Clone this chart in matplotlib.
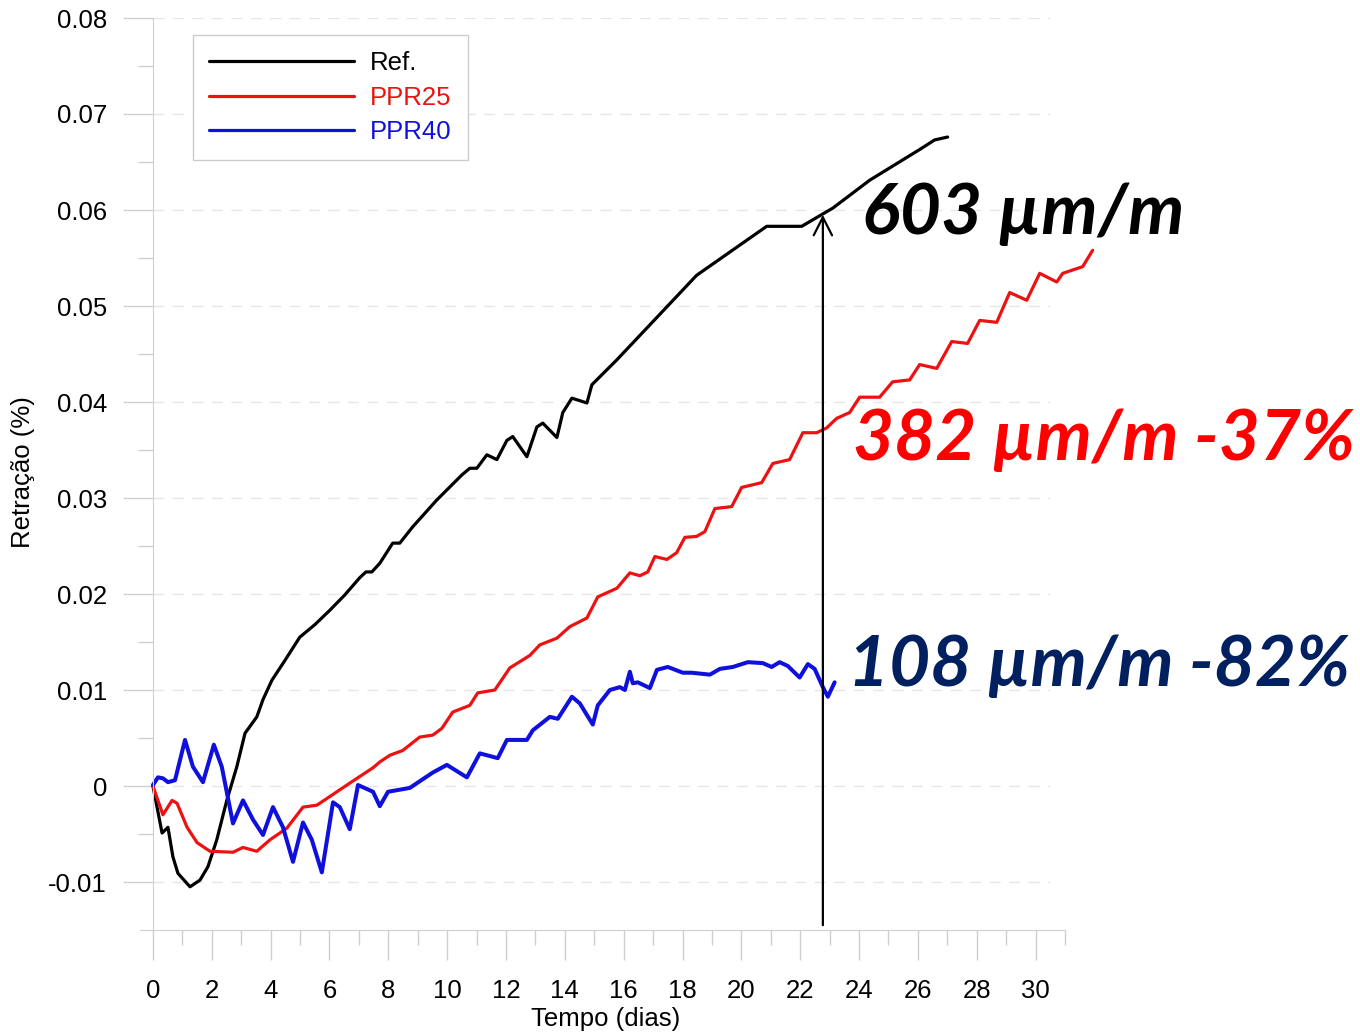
import matplotlib
matplotlib.use("Agg")
import matplotlib.pyplot as plt
import numpy as np

plt.rcParams['font.family'] = ['Liberation Sans', 'DejaVu Sans']

# Ref. (tempo em dias, retração em %)
ref_t = [0.00, 0.31, 0.51, 0.68, 0.85, 1.26, 1.60, 1.87, 2.17, 2.51, 2.85, 3.13, 3.53, 3.74,
         4.04, 4.49, 4.99, 5.50, 6.01, 6.52, 7.03, 7.24, 7.44, 7.71, 8.15, 8.39, 8.83, 9.65,
         10.50, 10.77, 11.01, 11.35, 11.69, 12.03, 12.23, 12.71, 13.05, 13.25, 13.73, 13.93,
         14.24, 14.75, 14.92, 15.77, 18.48, 20.86, 22.05, 23.11, 24.36, 26.06, 26.57, 27.01]
ref_v = [0.0000, -0.0049, -0.0043, -0.0074, -0.0091, -0.0105, -0.0098, -0.0084, -0.0056,
         -0.0015, 0.0020, 0.0055, 0.0072, 0.0090, 0.0110, 0.0131, 0.0155, 0.0168, 0.0183,
         0.0199, 0.0217, 0.0223, 0.0223, 0.0232, 0.0253, 0.0253, 0.0270, 0.0298, 0.0324,
         0.0331, 0.0331, 0.0345, 0.0340, 0.0360, 0.0364, 0.0343, 0.0374, 0.0378, 0.0363,
         0.0389, 0.0404, 0.0399, 0.0418, 0.0444, 0.0532, 0.0583, 0.0583, 0.0602, 0.0631,
         0.0663, 0.0673, 0.0676]

# PPR25
ppr25_t = [0.00, 0.34, 0.65, 0.82, 1.16, 1.50, 1.94, 2.72, 3.06, 3.53, 3.98, 4.55, 5.10,
           5.57, 6.01, 6.69, 7.48, 7.71, 8.05, 8.49, 9.07, 9.51, 9.82, 10.19, 10.77, 11.04,
           11.62, 12.13, 12.81, 13.15, 13.73,
           14.17, 14.75, 15.12, 15.77, 16.21, 16.55, 16.82, 17.06, 17.47, 17.80, 18.08, 18.48,
           18.76, 19.10, 19.67, 20.01, 20.69, 21.07, 21.64, 22.09, 22.56, 22.90, 23.24, 23.68,
           24.02, 24.70, 25.14, 25.72, 26.06, 26.64, 27.15, 27.69, 28.10, 28.68, 29.12, 29.70,
           30.14, 30.72, 30.92, 31.60, 31.94]
ppr25_v = [0.0000, -0.0030, -0.0015, -0.0018, -0.0043, -0.0059, -0.0068, -0.0069, -0.0064,
           -0.0068, -0.0056, -0.0044, -0.0022, -0.0020, -0.0011, 0.0003, 0.0019, 0.0025,
           0.0032, 0.0037, 0.0051, 0.0053, 0.0060, 0.0077, 0.0084, 0.0097, 0.0100, 0.0123,
           0.0136, 0.0147, 0.0154, 0.0166, 0.0175,
           0.0197, 0.0206, 0.0222, 0.0219, 0.0223, 0.0239, 0.0236, 0.0243, 0.0259, 0.0260,
           0.0265, 0.0289, 0.0291, 0.0311, 0.0316, 0.0336, 0.0340, 0.0368, 0.0368, 0.0373,
           0.0383, 0.0389, 0.0405, 0.0405, 0.0421, 0.0423, 0.0439, 0.0435, 0.0463, 0.0461,
           0.0485, 0.0483, 0.0514, 0.0506, 0.0534, 0.0525, 0.0534, 0.0541, 0.0558]

# PPR40
ppr40_t = [0.00, 0.17, 0.34, 0.51, 0.75, 1.09, 1.36, 1.70, 2.07, 2.34, 2.72, 3.06, 3.40,
           3.74, 4.08, 4.42, 4.76, 5.10, 5.40, 5.74, 6.12, 6.35, 6.69, 6.97, 7.48, 7.71, 7.99,
           8.73, 9.51, 9.99, 10.67, 11.11, 11.72, 12.03, 12.23, 12.71, 12.91, 13.49, 13.76,
           14.24, 14.51, 14.95, 15.12, 15.53, 15.87, 16.04, 16.21, 16.31, 16.48, 16.89, 17.13,
           17.50, 18.01, 18.31, 18.93, 19.27, 19.71, 20.22, 20.73, 21.03, 21.30, 21.58, 21.98,
           22.26, 22.49, 22.77, 22.94, 23.17]
ppr40_v = [0.0001, 0.0009, 0.0008, 0.0004, 0.0006, 0.0048, 0.0020, 0.0004, 0.0043, 0.0020,
           -0.0039, -0.0015, -0.0035, -0.0051, -0.0022, -0.0043, -0.0079, -0.0038, -0.0056,
           -0.0090, -0.0017, -0.0022, -0.0045, 0.0001, -0.0006, -0.0021, -0.0006, -0.0002,
           0.0014, 0.0022, 0.0009, 0.0034, 0.0029, 0.0048, 0.0048, 0.0048, 0.0058, 0.0072,
           0.0070, 0.0093, 0.0086, 0.0064, 0.0084, 0.0100, 0.0103, 0.0100, 0.0119, 0.0107,
           0.0108, 0.0102, 0.0121, 0.0124, 0.0118, 0.0118, 0.0116, 0.0122, 0.0124, 0.0129,
           0.0128, 0.0124, 0.0129, 0.0125, 0.0113, 0.0127, 0.0122, 0.0103, 0.0093, 0.0108]

y_ticks = [-0.01, 0, 0.01, 0.02, 0.03, 0.04, 0.05, 0.06, 0.07, 0.08]
y_labels = ['-0.01', '0', '0.01', '0.02', '0.03', '0.04', '0.05', '0.06', '0.07', '0.08']
x_ticks = list(range(0, 31, 2))

arrow_day = 22.77
annotations = [('603 µm/m', '#000000'),
               ('382 µm/m -37%', '#FF0000'),
               ('108 µm/m -82%', '#002060')]

fig = plt.figure(figsize=(13.6, 10.32), dpi=100)
ax = fig.add_axes([140/1360, 1 - 930/1032, 925/1360, 912/1032])
ax.set_xlim(-0.44, 31.0)
ax.set_ylim(-0.015, 0.08)

grey = '#cfcfcf'
for s in ['top', 'right']:
    ax.spines[s].set_visible(False)
ax.spines['left'].set_position(('data', 0))
ax.spines['left'].set_color(grey)
ax.spines['bottom'].set_color(grey)

ax.hlines(y_ticks, 0, 30.5, colors='#e6e6e6', linestyles=(0, (8, 6)), linewidth=1, zorder=0)

ax.set_yticks(y_ticks)
ax.set_yticklabels(y_labels)
ax.set_yticks(np.arange(-0.005, 0.08, 0.01), minor=True)
ax.set_xticks(x_ticks)
ax.set_xticks(range(0, 32), minor=True)

ax.tick_params(axis='both', which='major', length=21.6, width=1, color=grey,
               labelsize=18.5)
ax.tick_params(axis='y', which='major', pad=11.5)
ax.tick_params(axis='x', which='major', pad=14)
ax.tick_params(axis='both', which='minor', length=10.8, width=1, color=grey)

line_kw = dict(clip_on=False, solid_joinstyle='round', solid_capstyle='round')
ax.plot(ref_t, ref_v, color='black', lw=2.3, label='Ref.', **line_kw)
ax.plot(ppr25_t, ppr25_v, color='#ee1111', lw=2.3, label='PPR25', **line_kw)
ax.plot(ppr40_t, ppr40_v, color='#1010dd', lw=2.9, label='PPR40', **line_kw)

leg = ax.legend(loc='upper left', bbox_to_anchor=(0.0573, 0.9814), borderaxespad=0,
                fontsize=18.5, handlelength=5.65, fancybox=False, framealpha=1,
                edgecolor='#cccccc', labelspacing=0.42, borderpad=0.62, handletextpad=0.62)
leg.get_frame().set_linewidth(1)
for txt, ln in zip(leg.get_texts(), leg.get_lines()):
    txt.set_color(ln.get_color())
    ln.set_linewidth(2.3)

ax.set_xlabel('Tempo (dias)', fontsize=18.5)
ax.set_ylabel('Retração (%)', fontsize=18.5)
ax.xaxis.set_label_coords(0.503, -0.084)
ax.yaxis.set_label_coords(-0.113, 0.502)

ax.annotate('', xy=(arrow_day, 0.0595), xytext=(arrow_day, -0.0145),
            arrowprops=dict(arrowstyle='->,head_length=0.65,head_width=0.33',
                            lw=1.6, color='black', shrinkA=0, shrinkB=0,
                            mutation_scale=20))

ann_pos = [(862, 213), (853, 440), (848, 665)]
for (txt, col), (px, py) in zip(annotations, ann_pos):
    fig.text(px/1360, 1 - py/1032, txt, color=col, fontsize=51, fontweight='bold',
             fontstyle='italic', family=['Lato', 'DejaVu Sans'], ha='left', va='center')

fig.savefig('out.png', dpi=100, facecolor='white')
